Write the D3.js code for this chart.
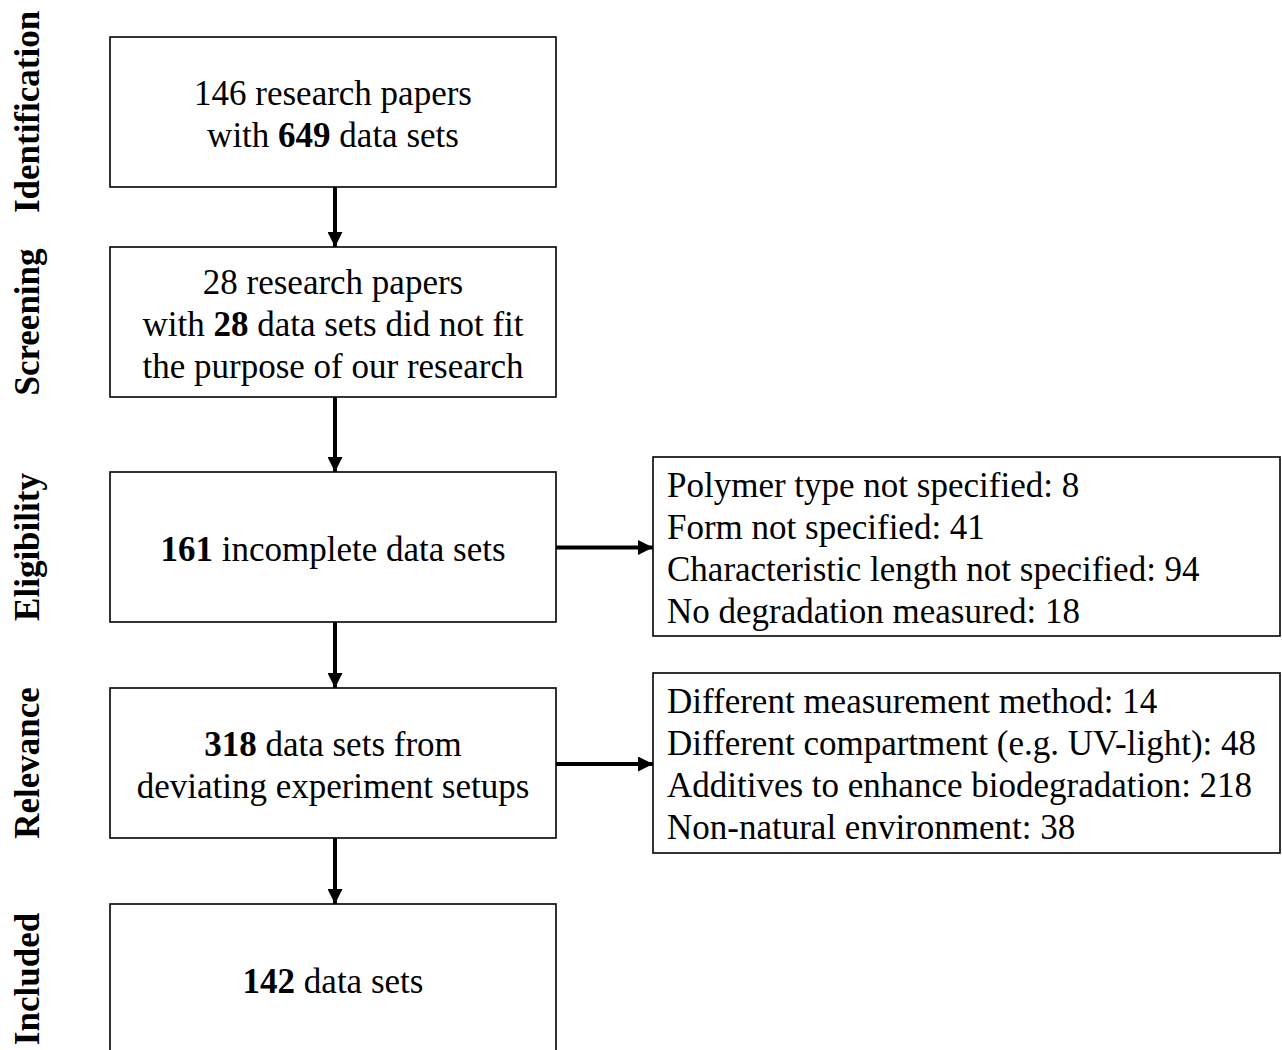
<!DOCTYPE html>
<html><head><meta charset="utf-8">
<script src="https://cdn.jsdelivr.net/npm/d3@7"></script>
<style>body{margin:0;background:#fff}svg{display:block}</style>
</head><body>
<script>
const stages = ["Identification","Screening","Eligibility","Relevance","Included"];
// main box text: each line is list of [text, bold]
const mainTexts = [
  [[["146 research papers",false]],[["with ",false],["649",true],[" data sets",false]]],
  [[["28 research papers",false]],[["with ",false],["28",true],[" data sets did not fit",false]],[["the purpose of our research",false]]],
  [[["161",true],[" incomplete data sets",false]]],
  [[["318",true],[" data sets from",false]],[["deviating experiment setups",false]]],
  [[["142",true],[" data sets",false]]]
];
const sideStage = ["Eligibility","Relevance"];
const sideTexts = [
  ["Polymer type not specified: 8","Form not specified: 41","Characteristic length not specified: 94","No degradation measured: 18"],
  ["Different measurement method: 14","Different compartment (e.g. UV-light): 48","Additives to enhance biodegradation: 218","Non-natural environment: 38"]
];

// layout
const W=1282,H=1050;
const boxTop={Identification:37,Screening:247,Eligibility:472,Relevance:688,Included:904};
const boxH=150, bx0=110, bx1=556;
const sideY={Eligibility:[457,636],Relevance:[673,853]};
const sx0=653, sx1=1281;
const font="'Liberation Serif','Times New Roman',serif";
const fs=35, lh=42;

const svg=d3.select("body").append("svg").attr("width",W).attr("height",H);

const defs=svg.append("defs");
defs.append("marker").attr("id","ah").attr("viewBox","0 0 15 15")
  .attr("refX",15).attr("refY",7.5).attr("markerWidth",15).attr("markerHeight",15)
  .attr("markerUnits","userSpaceOnUse").attr("orient","auto")
  .append("path").attr("d","M0,0L15,7.5L0,15Z").attr("fill","#000");

const cy=s=>boxTop[s]+boxH/2;

// stage labels
svg.selectAll("text.stage").data(stages).join("text").attr("class","stage")
  .attr("transform",d=>`translate(39,${cy(d)}) rotate(-90)`)
  .attr("text-anchor","middle").attr("font-family",font).attr("font-weight","bold")
  .attr("font-size",35).text(d=>d);

// arrows between main boxes
stages.slice(0,-1).forEach((s,i)=>{
  svg.append("line").attr("x1",335).attr("x2",335)
    .attr("y1",boxTop[s]+boxH).attr("y2",boxTop[stages[i+1]])
    .attr("stroke","#000").attr("stroke-width",4).attr("marker-end","url(#ah)");
});

// main boxes
stages.forEach((s,i)=>{
  const c=cy(s);
  svg.append("rect").attr("x",bx0).attr("y",boxTop[s]).attr("width",bx1-bx0).attr("height",boxH)
    .attr("fill","none").attr("stroke","#000").attr("stroke-width",1.6);
  const lines=mainTexts[i];
  const n=lines.length;
  const t0=c-(n-1)*lh/2+14;
  lines.forEach((ln,j)=>{
    const t=svg.append("text").attr("x",(bx0+bx1)/2).attr("y",t0+j*lh)
      .attr("text-anchor","middle").attr("font-family",font).attr("font-size",fs);
    ln.forEach(([txt,b])=>t.append("tspan").attr("font-weight",b?"bold":"normal").text(txt));
  });
});

// side boxes
sideStage.forEach((s,i)=>{
  const [t,b]=sideY[s];
  svg.append("rect").attr("x",sx0).attr("y",t).attr("width",sx1-sx0-1).attr("height",b-t)
    .attr("fill","none").attr("stroke","#000").attr("stroke-width",1.6);
  const my=(t+b)/2+1;
  svg.append("line").attr("x1",bx1).attr("x2",sx0).attr("y1",my).attr("y2",my)
    .attr("stroke","#000").attr("stroke-width",4).attr("marker-end","url(#ah)");
  sideTexts[i].forEach((txt,j)=>{
    svg.append("text").attr("x",667).attr("y",t+40+j*lh).attr("font-family",font).attr("font-size",fs).text(txt);
  });
});
</script>
</body></html>
